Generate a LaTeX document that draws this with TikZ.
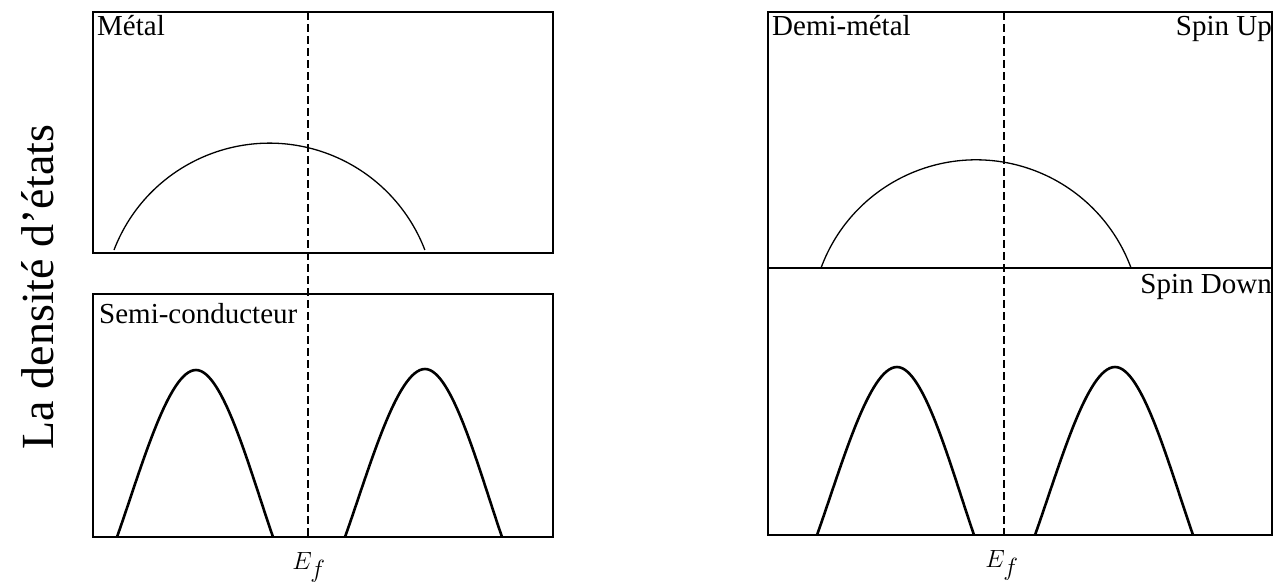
\documentclass[tikz,border=0pt]{standalone}
\usepackage{fontspec}
\setmainfont{Liberation Serif}
\tikzset{
  boxline/.style={line width=2.8pt},
  arcline/.style={line width=1.3pt},
  bumpline/.style={line width=2.6pt, line join=round},
  efline/.style={line width=1.4pt, dash pattern=on 8pt off 4pt},
  lbl/.style={inner sep=0pt, font=\fontsize{29}{34}\selectfont},
  eflbl/.style={inner sep=0pt, font=\fontsize{33}{38}\selectfont},
  ylbl/.style={inner sep=0pt, font=\fontsize{46}{52}\selectfont, rotate=90}
}
\newcommand{\mybump}[5]{% xl, xc, xr, ypeak, ybase
  \draw[bumpline] (#1,#5)
    .. controls ({#1+0.3*(#2-#1)},{#5-0.4*(#5-#4)}) and ({#1+0.65*(#2-#1)},#4) .. (#2,#4)
    .. controls ({#2+0.35*(#3-#2)},#4) and ({#3-0.3*(#3-#2)},{#5-0.4*(#5-#4)}) .. (#3,#5);
}
\begin{document}
\begin{tikzpicture}[x=1pt,y=-1pt]
\useasboundingbox (0,0) rectangle (1285,581);
% left panels
\coordinate (efTopL) at (308,12);
\coordinate (efBotL) at (308,537);
\draw[efline] (efTopL) -- (efBotL);
\draw[boxline] (93,12) rectangle (553,253);
\draw[boxline] (93,294) rectangle (553,537);
\draw[arcline] (114,250) arc[start angle=-159,end angle=-21,radius=166.5];
\mybump{117}{196}{273}{370}{537}
\mybump{345}{425}{502}{369}{537}
\node[lbl, anchor=base west] (metal) at (97,35) {Métal};
\node[lbl, anchor=base west] (semi) at (99,323) {Semi-conducteur};
\node[eflbl, anchor=base] (ef1) at (309,569) {$E_f$};
% right panel
\coordinate (efTopR) at (1004,12);
\coordinate (efBotR) at (1004,535);
\draw[efline] (efTopR) -- (efBotR);
\draw[boxline] (768,12) rectangle (1272,535);
\draw[boxline] (768,268) -- (1272,268);
\draw[arcline] (821,268) arc[start angle=-159.8,end angle=-20.2,radius=165.2];
\mybump{817}{897}{974}{367}{535}
\mybump{1035}{1115}{1193}{367}{535}
\node[lbl, anchor=base west] (demi) at (772,35) {Demi-métal};
\node[lbl, anchor=base east] (up) at (1272,35) {Spin Up};
\node[lbl, anchor=base east] (down) at (1272,293) {Spin Down};
\node[eflbl, anchor=base] (ef2) at (1002,567) {$E_f$};
% axis label
\node[ylbl] (dos) at (38,287) {La densité d’états};
\end{tikzpicture}
\end{document}
